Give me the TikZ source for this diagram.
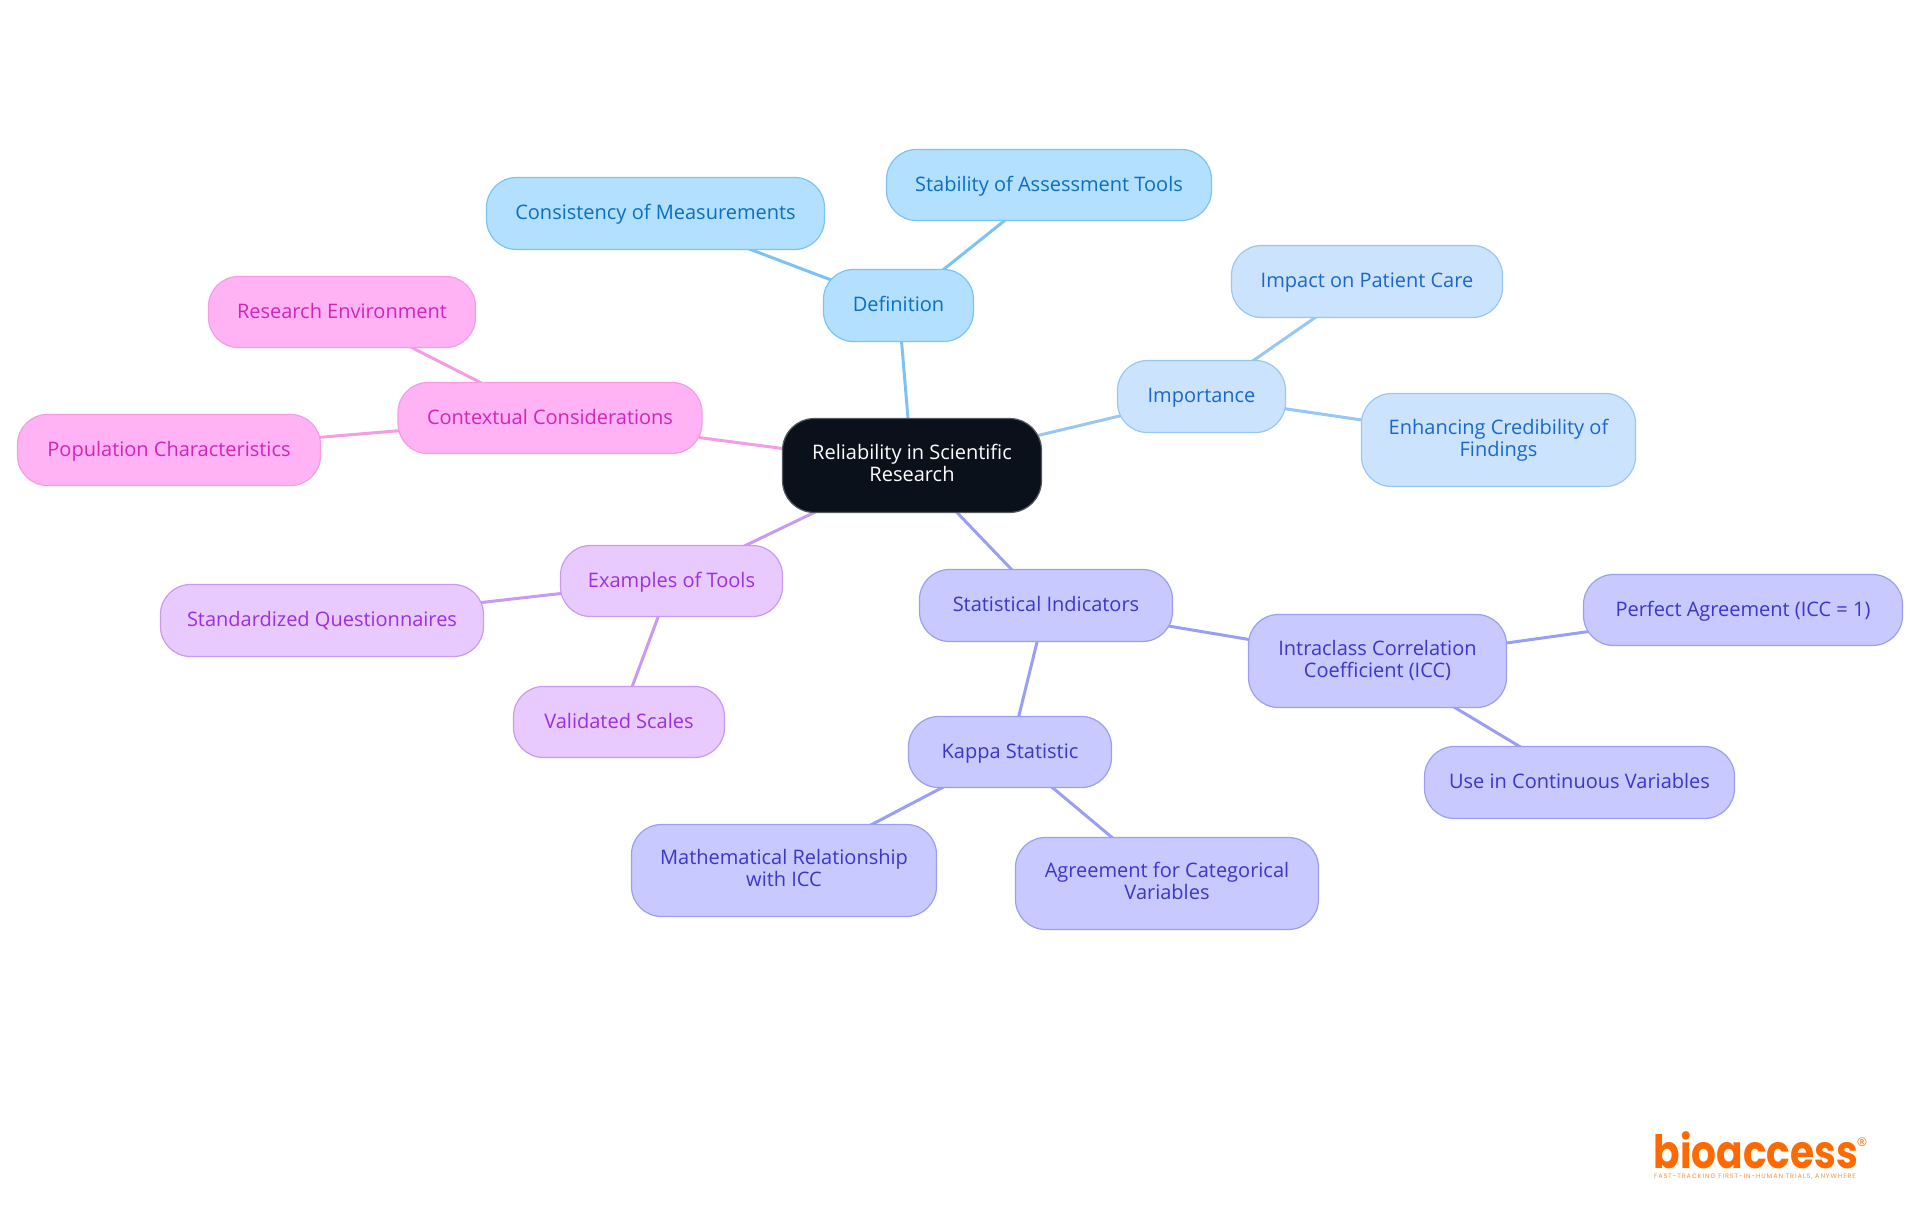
\documentclass[tikz,border=0pt]{standalone}
\usepackage{fontspec}
\setmainfont{Open Sans}
\newfontfamily\logofont[FakeStretch=0.85]{Poppins Bold}
\newfontfamily\tagfont[LetterSpace=14]{Poppins}
\usetikzlibrary{backgrounds}
\definecolor{ink}{HTML}{0B111A}
\definecolor{deffill}{HTML}{B3E0FF}
\definecolor{defline}{HTML}{7CC3F4}
\definecolor{deftext}{HTML}{0A6FC2}
\definecolor{impfill}{HTML}{CCE3FD}
\definecolor{impline}{HTML}{99C7F4}
\definecolor{imptext}{HTML}{1A68CC}
\definecolor{statfill}{HTML}{C7C9FF}
\definecolor{statline}{HTML}{9B9FF2}
\definecolor{stattext}{HTML}{3A37C9}
\definecolor{toolfill}{HTML}{E8CAFF}
\definecolor{toolline}{HTML}{C99AF0}
\definecolor{tooltext}{HTML}{9A30E0}
\definecolor{ctxfill}{HTML}{FFB3F5}
\definecolor{ctxline}{HTML}{F59CE5}
\definecolor{ctxtext}{HTML}{D026B8}
\definecolor{logoorange}{HTML}{FF6A00}
\begin{document}
\begin{tikzpicture}[x=1pt,y=-1pt,
    topic/.style={rectangle,rounded corners=30pt,line width=1.2pt,inner sep=0pt,align=center,
      font=\fontsize{20}{22}\selectfont,
      execute at begin node={\rule{0pt}{17.5pt}},execute at end node={\vphantom{Ag}}},
    defbox/.style={topic,draw=defline,fill=deffill,text=deftext},
    impbox/.style={topic,draw=impline,fill=impfill,text=imptext},
    statbox/.style={topic,draw=statline,fill=statfill,text=stattext},
    toolbox/.style={topic,draw=toolline,fill=toolfill,text=tooltext},
    ctxbox/.style={topic,draw=ctxline,fill=ctxfill,text=ctxtext},
    link/.style={line width=3pt}]
      \useasboundingbox (0,0) rectangle (1920,1215);
      \node[topic,draw=ink!70,fill=ink,text=white,rounded corners=32pt,minimum width=259pt,minimum height=94pt] (root) at (912,465.5) {Reliability in Scientific\\Research};
      % definition
      \node[defbox,minimum width=150pt,minimum height=72pt] (definition) at (898.5,305.5) {Definition};
      \node[defbox,minimum width=338pt,minimum height=72pt] (consistency) at (655.5,213.5) {Consistency of Measurements};
      \node[defbox,minimum width=325pt,minimum height=71pt] (stability) at (1049,185) {Stability of Assessment Tools};
      % importance
      \node[impbox,minimum width=168pt,minimum height=72pt] (importance) at (1201.5,396.5) {Importance};
      \node[impbox,minimum width=271pt,minimum height=72pt] (impact) at (1367,281.5) {Impact on Patient Care};
      \node[impbox,minimum width=274pt,minimum height=93pt] (credibility) at (1498.5,440) {Enhancing Credibility of\\Findings};
      % statistical indicators
      \node[statbox,minimum width=253pt,minimum height=72pt] (statistical) at (1046,605.5) {Statistical Indicators};
      \node[statbox,minimum width=258pt,minimum height=93pt] (icc) at (1377.5,661) {Intraclass Correlation\\Coefficient (ICC)};
      \node[statbox,minimum width=319pt,minimum height=71pt] (perfect) at (1743,610) {Perfect Agreement (ICC = 1)};
      \node[statbox,minimum width=310pt,minimum height=72pt] (continuous) at (1579.5,782.5) {Use in Continuous Variables};
      \node[statbox,minimum width=203pt,minimum height=71pt] (kappa) at (1010,752) {Kappa Statistic};
      \node[statbox,minimum width=305pt,minimum height=92pt] (relation) at (784,870.5) {Mathematical Relationship\\with ICC};
      \node[statbox,minimum width=303pt,minimum height=92pt] (categorical) at (1167,883.5) {Agreement for Categorical\\Variables};
      % tools
      \node[toolbox,minimum width=222pt,minimum height=71pt] (examples) at (671.5,581) {Examples of Tools};
      \node[toolbox,minimum width=323pt,minimum height=72pt] (questionnaires) at (322,620.5) {Standardized Questionnaires};
      \node[toolbox,minimum width=211pt,minimum height=71pt] (scales) at (619,722) {Validated Scales};
      % context
      \node[ctxbox,minimum width=304pt,minimum height=71pt] (contextual) at (550,418) {Contextual Considerations};
      \node[ctxbox,minimum width=267pt,minimum height=71pt] (environment) at (342,312) {Research Environment};
      \node[ctxbox,minimum width=303pt,minimum height=71pt] (population) at (169,450) {Population Characteristics};
      % connectors behind the boxes
      \begin{scope}[on background layer]
      \draw[link,defline] (root.center) -- (definition.center);
      \draw[link,defline] (definition.center) -- (consistency.center);
      \draw[link,defline] (definition.center) -- (stability.center);
      \draw[link,impline] (root.center) -- (importance.center);
      \draw[link,impline] (importance.center) -- (impact.center);
      \draw[link,impline] (importance.center) -- (credibility.center);
      \draw[link,statline] (root.center) -- (statistical.center);
      \draw[link,statline] (statistical.center) -- (icc.center);
      \draw[link,statline] (icc.center) -- (perfect.center);
      \draw[link,statline] (icc.center) -- (continuous.center);
      \draw[link,statline] (statistical.center) -- (kappa.center);
      \draw[link,statline] (kappa.center) -- (relation.center);
      \draw[link,statline] (kappa.center) -- (categorical.center);
      \draw[link,toolline] (root.center) -- (examples.center);
      \draw[link,toolline] (examples.center) -- (questionnaires.center);
      \draw[link,toolline] (examples.center) -- (scales.center);
      \draw[link,ctxline] (root.center) -- (contextual.center);
      \draw[link,ctxline] (contextual.center) -- (environment.center);
      \draw[link,ctxline] (contextual.center) -- (population.center);
      \end{scope}
      % logo
      \node[inner sep=0pt,text=logoorange,font=\logofont\fontsize{46}{46}\selectfont] (logo) at (1756,1150) {bioaccess};
      \node[inner sep=0pt,text=logoorange,font=\fontsize{12}{12}\selectfont] (regmark) at (1862,1142) {\textregistered};
      \node[inner sep=0pt,text=logoorange!75,font=\tagfont\fontsize{6.5}{7}\selectfont] (tagline) at (1755,1177) {FAST-TRACKING FIRST-IN-HUMAN TRIALS, ANYWHERE};
    \end{tikzpicture}
\end{document}
